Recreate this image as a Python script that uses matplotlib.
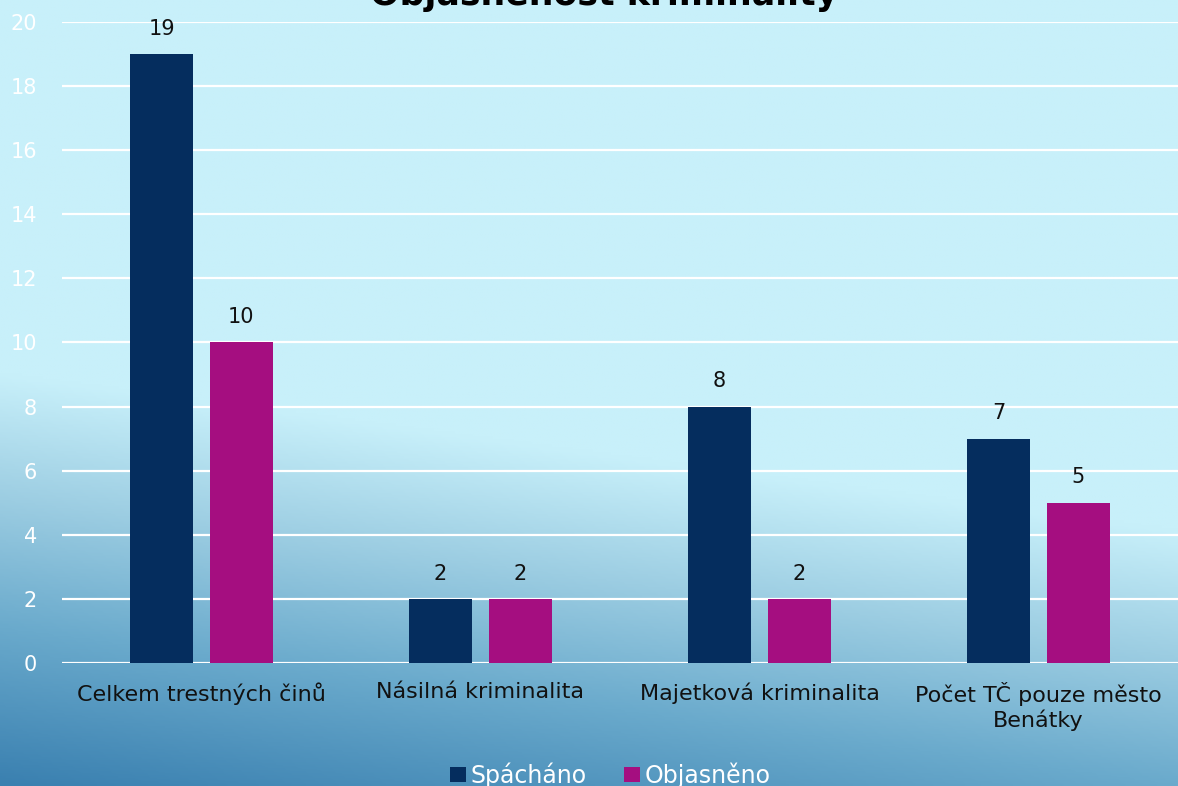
import numpy as np
import matplotlib.pyplot as plt
from matplotlib.colors import LinearSegmentedColormap

plt.rcParams['font.family'] = ['DejaVu Sans']

kategorie = ['Celkem trestných činů', 'Násilná kriminalita', 'Majetková kriminalita',
             'Počet TČ pouze město\nBenátky']
spachano = [19, 2, 8, 7]
objasneno = [10, 2, 2, 5]
nazvy = ['Spácháno', 'Objasněno']
barvy = ['#052D5E', '#A50E80']

fig = plt.figure(figsize=(11.78, 7.86), dpi=100)

# pozadi - gradient, tmavsi vlevo dole
bg = fig.add_axes([0, 0, 1, 1], zorder=0)
bg.axis('off')
xx, yy = np.meshgrid(np.linspace(0, 1, 400), np.linspace(0, 1, 300))
s = yy + 0.2 * (1 - xx)
cmap = LinearSegmentedColormap.from_list('bg', [
    (0.0, '#C8F0FA'), (0.25, '#C8F0FA'), (0.48, '#9CCDE2'),
    (0.714, '#6AAACC'), (1.0, '#3A80B0')])
t = np.clip((s - 0.5) / 0.7, 0, 1)
bg.imshow(t, cmap=cmap, vmin=0, vmax=1, aspect='auto', extent=[0, 1, 1, 0])
bg.set_xlim(0, 1)
bg.set_ylim(1, 0)

ax = fig.add_axes([62 / 1178, 123 / 786, 1 - 62 / 1178, (663 - 22) / 786], zorder=1)
ax.patch.set_alpha(0)

x = np.arange(len(kategorie))
w = 0.225
off = 0.143
b1 = ax.bar(x - off, spachano, w, color=barvy[0], label=nazvy[0], zorder=3)
b2 = ax.bar(x + off, objasneno, w, color=barvy[1], label=nazvy[1], zorder=3)
for bars in (b1, b2):
    ax.bar_label(bars, padding=11, fontsize=15, color='#111111')

ax.set_xlim(-0.5, 3.5)
ax.set_ylim(0, 20)
ax.set_yticks(range(0, 21, 2))
ax.yaxis.grid(True, color='white', linewidth=1.6, zorder=0)
ax.set_axisbelow(True)
for sp in ax.spines.values():
    sp.set_visible(False)
ax.tick_params(axis='y', length=0, pad=18, labelcolor='white', labelsize=15)
ax.tick_params(axis='x', length=0, pad=14, labelsize=16)
ax.set_xticks(x)
ax.set_xticklabels(kategorie, color='#111111')

fig.text(0.513, 1 - 5 / 786, 'Objasněnost kriminality', ha='center', va='baseline',
         fontsize=25, fontweight='bold', color='black')

fig.legend(loc='center', bbox_to_anchor=(0.518, 1 - 775 / 786), ncol=2, frameon=False,
           fontsize=17, labelcolor='white', handlelength=0.65, handleheight=0.65,
           handletextpad=0.2, columnspacing=1.6)

fig.savefig('out.png', dpi=100)
